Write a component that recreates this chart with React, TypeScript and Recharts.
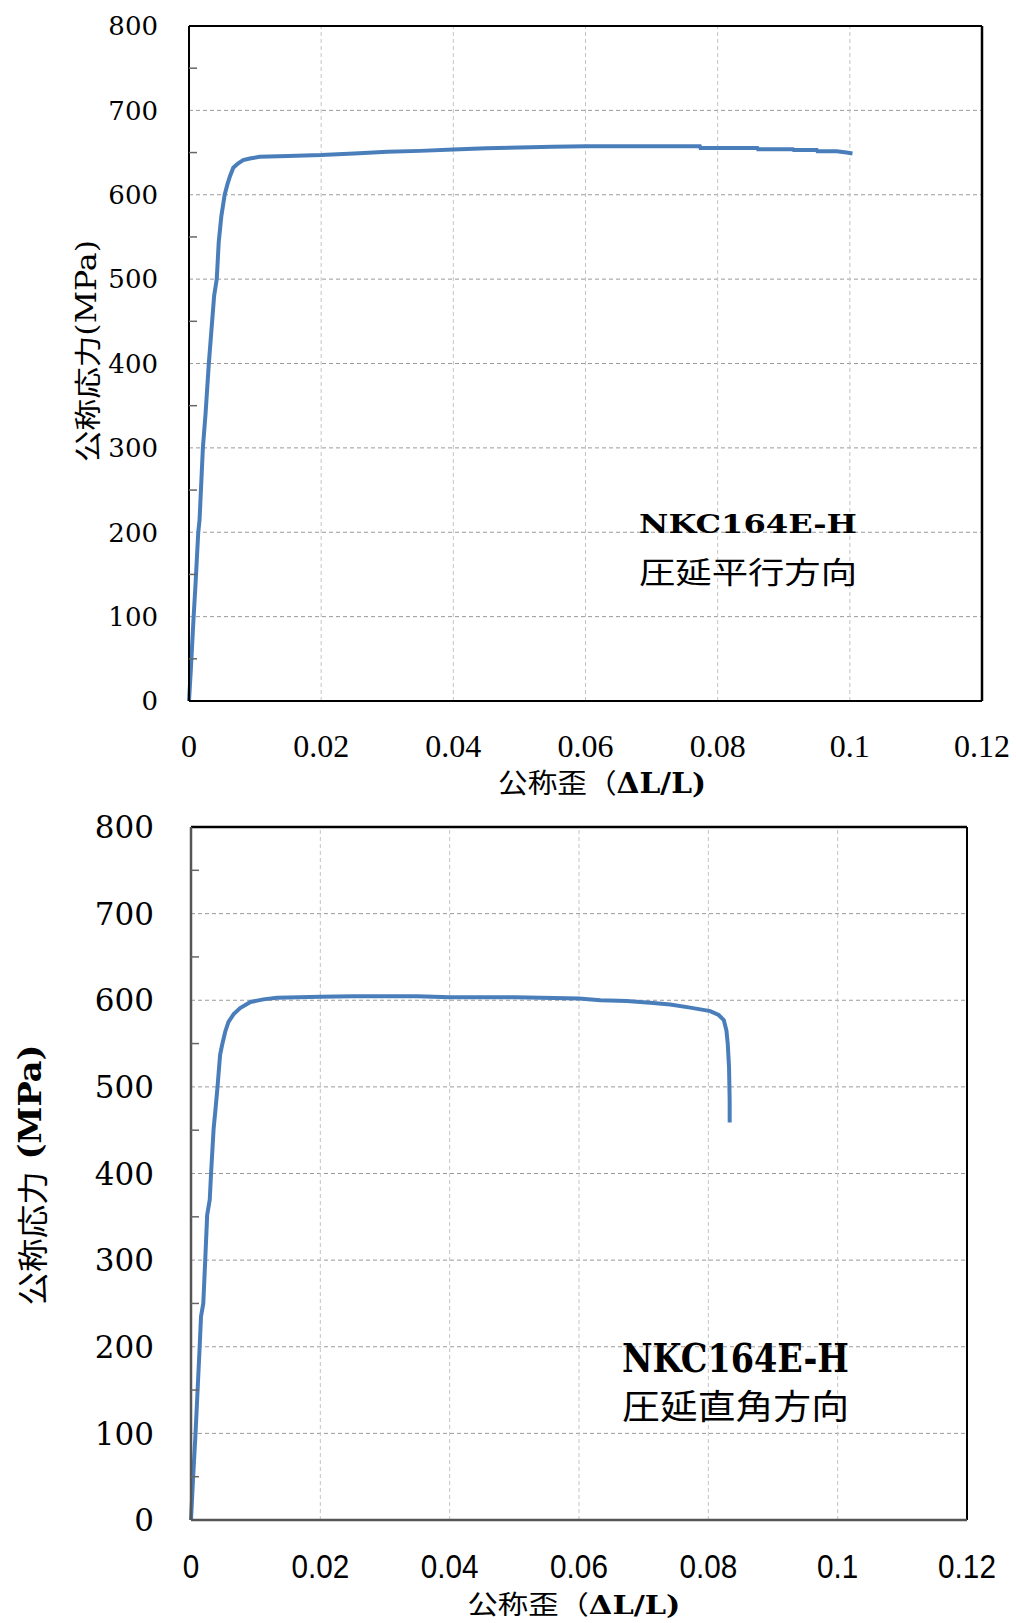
import React from 'react';
import { LineChart, Line, XAxis, YAxis, ReferenceLine } from 'recharts';

// 圧延平行方向 (top chart)
const topStrain = [
  0, 0.0003, 0.0007, 0.001, 0.0014, 0.0016, 0.0021, 0.0025, 0.003, 0.0034,
  0.0038, 0.0042, 0.0045, 0.0049, 0.0054, 0.0058, 0.0062, 0.0067, 0.0074, 0.0082,
  0.0092, 0.0107, 0.015, 0.02, 0.025, 0.03, 0.035, 0.04, 0.045, 0.05,
  0.055, 0.06, 0.065, 0.07, 0.0773, 0.0774, 0.086, 0.0861, 0.0914, 0.0915,
  0.095, 0.0951, 0.098, 0.0995, 0.1004,
];
const topStress = [
  0, 40, 100, 140, 200, 215, 300, 340, 400, 440,
  480, 500, 544, 575, 600, 612, 622, 632, 637, 641,
  643, 645, 646, 647, 649, 651, 652, 653.5, 655, 656,
  657, 657.5, 657.5, 657.5, 657.5, 655.5, 655.5, 654, 654, 653,
  653, 651.6, 651.6, 650, 649,
];

// 圧延直角方向 (bottom chart)
const bottomStrain = [
  0, 0.0003, 0.0007, 0.00134, 0.00155, 0.0019, 0.0022, 0.0025, 0.0029, 0.0031,
  0.0035, 0.0038, 0.0041, 0.0045, 0.0048, 0.0053, 0.0058, 0.0066, 0.0076, 0.0092,
  0.0112, 0.0133, 0.02, 0.025, 0.03, 0.035, 0.04, 0.05, 0.06, 0.0633,
  0.0674, 0.071, 0.0741, 0.0772, 0.0803, 0.0816, 0.0824, 0.0828, 0.083, 0.0832,
  0.0833, 0.0833,
];
const bottomStress = [
  0, 45, 100, 200, 235, 250, 300, 352, 370, 400,
  452, 475, 500, 537, 548, 564, 575, 584, 591, 598,
  601, 603, 604, 604.5, 604.5, 604.5, 603.5, 603.5, 602, 600,
  599, 597, 595, 591.5, 587.5, 583, 577, 565, 550, 523,
  484, 459,
];

const xTicks = [0, 0.02, 0.04, 0.06, 0.08, 0.1, 0.12];
const xGrid = [0.02, 0.04, 0.06, 0.08, 0.1];
const yTicks = [0, 50, 100, 150, 200, 250, 300, 350, 400, 450, 500, 550, 600, 650, 700, 750, 800];
const yGrid = [100, 200, 300, 400, 500, 600, 700];

const topData = topStrain.map((s, i) => ({ strain: s, stress: topStress[i] }));
const bottomData = bottomStrain.map((s, i) => ({ strain: s, stress: bottomStress[i] }));

const LINE_COLOR = '#4a7ebb';
const CJK = '"Noto Sans CJK JP"';

const makeYTick = (fontSize: number, margin: number, tickColor: string) => (props: any) => {
  const { x, y, payload } = props;
  const v = payload.value;
  if (v % 100 !== 0) {
    const ax = x + margin;
    return <line x1={ax} y1={y} x2={ax + 8} y2={y} stroke={tickColor} strokeWidth={1.5} />;
  }
  return (
    <text x={x} y={y} dy={fontSize * 0.36} textAnchor="end" fontFamily='"DejaVu Serif"' fontSize={fontSize} fill="#000">
      {v}
    </text>
  );
};

const TopXTick = (props: any) => {
  const { x, y, payload } = props;
  return (
    <text x={x} y={y + 56} textAnchor="middle" fontFamily='"Liberation Serif"' fontSize={32} fill="#000">
      {String(payload.value)}
    </text>
  );
};

const BottomXTick = (props: any) => {
  const { x, y, payload } = props;
  return (
    <text
      transform={`translate(${x},${y + 58}) scale(0.9,1)`}
      textAnchor="middle"
      fontFamily='"Liberation Sans"'
      fontSize={33}
      fill="#000"
    >
      {String(payload.value)}
    </text>
  );
};

const gridLines = (hColor: string, vColor: string) => [
  ...yGrid.map((v) => (
    <ReferenceLine key={'h' + v} y={v} stroke={hColor} strokeDasharray="4 3" strokeWidth={1} />
  )),
  ...xGrid.map((v) => (
    <ReferenceLine key={'v' + v} x={v} stroke={vColor} strokeDasharray="4 3" strokeWidth={1} />
  )),
];

const App: React.FC = () => {
  return (
    <div style={{ position: 'absolute', left: 0, top: 0, width: 1016, height: 1623, background: '#fff' }}>
      {/* top chart */}
      <div style={{ position: 'absolute', left: 0, top: 0 }}>
        <LineChart width={1016} height={800} data={topData} margin={{ top: 26, right: 34, left: 69, bottom: 39 }}>
          <XAxis
            dataKey="strain"
            type="number"
            domain={[0, 0.12]}
            ticks={xTicks}
            interval={0}
            height={60}
            tickSize={0}
            tickMargin={0}
            tick={<TopXTick />}
            axisLine={{ stroke: '#000', strokeWidth: 2 }}
          />
          <YAxis
            type="number"
            domain={[0, 800]}
            ticks={yTicks}
            interval={0}
            width={120}
            tickSize={0}
            tickMargin={31}
            tick={makeYTick(26, 31, '#666')}
            axisLine={{ stroke: '#000', strokeWidth: 2 }}
          />
          {gridLines('#9a9a9a', '#c4c4c4')}
          <ReferenceLine y={800} stroke="#000" strokeWidth={2} />
          <ReferenceLine x={0.12} stroke="#000" strokeWidth={2.5} />
          <Line type="linear" dataKey="stress" stroke={LINE_COLOR} strokeWidth={4} dot={false} isAnimationActive={false} />
        </LineChart>
      </div>

      {/* bottom chart */}
      <div style={{ position: 'absolute', left: 0, top: 800 }}>
        <LineChart width={1016} height={823} data={bottomData} margin={{ top: 27, right: 49, left: 71, bottom: 43 }}>
          <XAxis
            dataKey="strain"
            type="number"
            domain={[0, 0.12]}
            ticks={xTicks}
            interval={0}
            height={60}
            tickSize={0}
            tickMargin={0}
            tick={<BottomXTick />}
            axisLine={{ stroke: '#555', strokeWidth: 2.5 }}
          />
          <YAxis
            type="number"
            domain={[0, 800]}
            ticks={yTicks}
            interval={0}
            width={120}
            tickSize={0}
            tickMargin={37}
            tick={makeYTick(31, 37, '#666')}
            axisLine={{ stroke: '#555', strokeWidth: 2.5 }}
          />
          {gridLines('#9a9a9a', '#c4c4c4')}
          <ReferenceLine y={800} stroke="#000" strokeWidth={2.5} />
          <ReferenceLine x={0.12} stroke="#000" strokeWidth={2} />
          <Line type="linear" dataKey="stress" stroke={LINE_COLOR} strokeWidth={4} dot={false} isAnimationActive={false} />
        </LineChart>
      </div>

      {/* titles and notes */}
      <svg width={1016} height={1623} style={{ position: 'absolute', left: 0, top: 0, pointerEvents: 'none' }}>
        <text
          transform="translate(86,351) rotate(-90)"
          textAnchor="middle"
          dominantBaseline="central"
          fontSize={27}
          textLength={222}
          lengthAdjust="spacingAndGlyphs"
          fill="#000"
        >
          <tspan fontFamily={CJK}>公称応力</tspan>
          <tspan fontFamily='"DejaVu Serif"'>(MPa)</tspan>
        </text>
        <text x={602} y={793} textAnchor="middle" fontSize={27} textLength={208} lengthAdjust="spacingAndGlyphs" fill="#000">
          <tspan fontFamily={CJK}>公称歪（</tspan>
          <tspan fontFamily='"DejaVu Serif"' fontWeight="bold">ΔL/L)</tspan>
        </text>
        <text x={639} y={533} fontFamily='"DejaVu Serif"' fontWeight="bold" fontSize={26.5} textLength={218} lengthAdjust="spacingAndGlyphs" fill="#000">
          NKC164E-H
        </text>
        <text x={639} y={583} fontFamily={CJK} fontSize={30} textLength={218} lengthAdjust="spacingAndGlyphs" fill="#000">
          圧延平行方向
        </text>

        <text
          transform="translate(30,1175) rotate(-90)"
          textAnchor="middle"
          dominantBaseline="central"
          fontSize={31}
          textLength={261}
          lengthAdjust="spacingAndGlyphs"
          fill="#000"
        >
          <tspan fontFamily={CJK}>公称応力</tspan>
          <tspan fontFamily='"DejaVu Serif"' fontWeight="bold"> (MPa)</tspan>
        </text>
        <text x={574} y={1614} textAnchor="middle" fontSize={26} textLength={213} lengthAdjust="spacingAndGlyphs" fill="#000">
          <tspan fontFamily={CJK}>公称歪（</tspan>
          <tspan fontFamily='"DejaVu Serif"' fontWeight="bold">ΔL/L)</tspan>
        </text>
        <text x={622} y={1372} fontFamily='"DejaVu Serif"' fontWeight="bold" fontSize={39} textLength={227} lengthAdjust="spacingAndGlyphs" fill="#000">
          NKC164E-H
        </text>
        <text x={622} y={1419} fontFamily={CJK} fontSize={34} textLength={227} lengthAdjust="spacingAndGlyphs" fill="#000">
          圧延直角方向
        </text>
      </svg>
    </div>
  );
};

export default App;
